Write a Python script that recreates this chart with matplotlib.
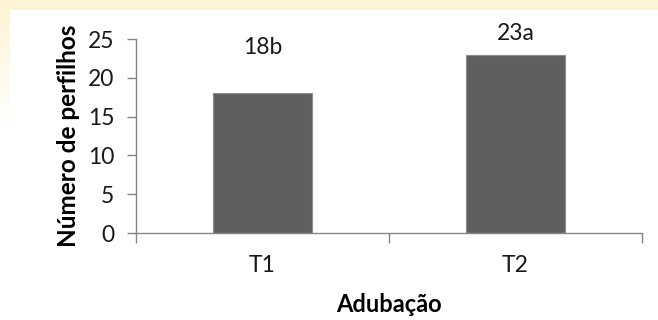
import matplotlib.pyplot as plt
import numpy as np

# tiller counts per fertilisation treatment, with Tukey letters
treatments = ['T1', 'T2']
tillers = [18, 23]
letters = ['b', 'a']

plt.rcParams['font.family'] = ['Lato', 'DejaVu Sans']

W, H = 658, 320
fig = plt.figure(figsize=(W / 100, H / 100), dpi=100)

# slide background: pale yellow border fading along the left edge
bg = np.ones((H, W, 3))
yellow = np.array([0.995, 0.955, 0.84])
bg[:10, :, :] = yellow
fade = np.clip(1 - (np.arange(H) - 10) / 115.0, 0, 1)[:, None, None]
bg[:, :10, :] = fade * yellow + (1 - fade) * 1.0
bg[:10, :10, :] = yellow
bg_ax = fig.add_axes([0, 0, 1, 1])
bg_ax.imshow(bg, aspect='auto', extent=(0, W, H, 0))
bg_ax.axis('off')

ax = fig.add_axes([136 / W, (H - 233) / H, (642 - 136) / W, (233 - 39) / H])
ax.patch.set_alpha(0)

x = np.arange(len(treatments))
bars = ax.bar(x, tillers, width=0.395, color='#5f5f5f', edgecolor='#8c8c8c',
              linewidth=0.8, zorder=2)

# letters sit at different heights above each bar
label_offsets = [33, 15]
for xi, val, let, off in zip(x, tillers, letters, label_offsets):
    ax.annotate(f'{val}{let}', xy=(xi, val), xytext=(0, off),
                textcoords='offset points', ha='center', va='center',
                fontsize=16.5, color='#1a1a1a')

ax.set_xlim(-0.5, 1.5)
ax.set_ylim(0, 25)
ax.set_yticks(range(0, 26, 5))
ax.set_xticks([-0.5, 0.5, 1.5])
ax.set_xticklabels([])
ax.set_xticks(x, minor=True)
ax.set_xticklabels(treatments, minor=True)

axis_grey = '#868686'
for side in ['top', 'right']:
    ax.spines[side].set_visible(False)
for side in ['left', 'bottom']:
    ax.spines[side].set_color(axis_grey)
    ax.spines[side].set_linewidth(1.0)

ax.tick_params(axis='y', direction='out', length=6.5, width=1.0, color=axis_grey,
               labelsize=16.5, labelcolor='#1a1a1a', pad=9)
ax.tick_params(axis='x', which='major', direction='out', length=7, width=1.0,
               color=axis_grey)
ax.tick_params(axis='x', which='minor', length=0, labelsize=16.5,
               labelcolor='#1a1a1a', pad=16)

ax.set_ylabel('Número de perfilhos', fontsize=17.5, fontweight='bold', labelpad=6)
ax.set_xlabel('Adubação', fontsize=17, fontweight='bold', labelpad=12)

fig.savefig('out.png', dpi=100)
